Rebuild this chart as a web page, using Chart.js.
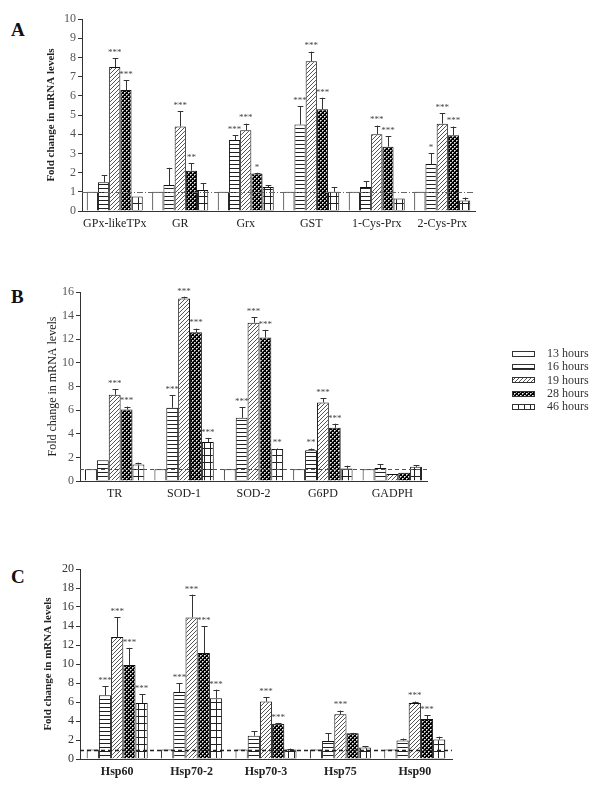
<!DOCTYPE html>
<html>
<head>
<meta charset="utf-8">
<script src="https://cdn.jsdelivr.net/npm/chart.js@4.4.1/dist/chart.umd.min.js"></script>
<style>
  body { margin: 0; background: #fff; width: 600px; height: 790px; position: relative; overflow: hidden; font-family: "Liberation Serif", serif; }
  canvas.panel { position: absolute; left: 0; }
  .letter { position: absolute; left: 11px; font-size: 19px; font-weight: bold; line-height: 1; color: #111; }
  #legend { position: absolute; left: 512px; top: 347px; font-size: 12px; color: #333; }
  #legend div { height: 13.3px; display: flex; align-items: center; }
  #legend canvas { margin-right: 12px; }
</style>
</head>
<body>
<div class="letter" style="top:20px">A</div>
<div class="letter" style="top:287px">B</div>
<div class="letter" style="top:567px">C</div>
<canvas id="chartA" class="panel" width="500" height="240" style="top:0"></canvas>
<canvas id="chartB" class="panel" width="500" height="230" style="top:280px"></canvas>
<canvas id="chartC" class="panel" width="500" height="235" style="top:555px"></canvas>
<div id="legend"></div>
<script>
/* ================= DATA ================= */
const hours = ['13 hours', '16 hours', '19 hours', '28 hours', '46 hours'];

// Panel A - antioxidant enzymes (0-10)
const catsA = ['GPx-likeTPx', 'GR', 'Grx', 'GST', '1-Cys-Prx', '2-Cys-Prx'];
const a13 = [1, 1, 1, 1, 1, 1];
const a16 = [1.5, 1.35, 3.7, 4.5, 1.25, 2.45];
const a19 = [7.5, 4.4, 4.2, 7.8, 4.0, 4.55];
const a28 = [6.3, 2.1, 1.95, 5.3, 3.35, 3.95];
const a46 = [0.75, 1.1, 1.25, 1.0, 0.65, 0.55];
const errA16 = [0.35, 0.9, 0.25, 0.95, 0.3, 0.55];
const errA19 = [0.45, 0.8, 0.35, 0.5, 0.45, 0.55];
const errA28 = [0.5, 0.4, 0.04, 0.6, 0.55, 0.45];
const errA46 = [0, 0.35, 0.1, 0.25, 0, 0.15];
const starsA16 = ['', '', '***', '***', '', '*'];
const starsA19 = ['***', '***', '***', '***', '***', '***'];
const starsA28 = ['***', '**', '*', '***', '***', '***'];

// Panel B (0-16)
const catsB = ['TR', 'SOD-1', 'SOD-2', 'G6PD', 'GADPH'];
const b13 = [1, 1, 1, 1, 1];
const b16 = [1.75, 6.2, 5.35, 2.6, 1.1];
const b19 = [7.3, 15.45, 13.4, 6.65, 0.6];
const b28 = [6.05, 12.6, 12.15, 4.5, 0.7];
const b46 = [1.4, 3.3, 2.7, 1.05, 1.2];
const errB16 = [0, 1.05, 0.9, 0.15, 0.3];
const errB19 = [0.45, 0.15, 0.45, 0.35, 0];
const errB28 = [0.25, 0.3, 0.65, 0.35, 0];
const errB46 = [0.15, 0.35, 0.05, 0.25, 0.15];
const starsB16 = ['', '***', '***', '**', ''];
const starsB19 = ['***', '***', '***', '***', ''];
const starsB28 = ['***', '***', '***', '***', ''];
const starsB46 = ['', '***', '**', '', ''];

// Panel C - heat shock proteins (0-20)
const catsC = ['Hsp60', 'Hsp70-2', 'Hsp70-3', 'Hsp75', 'Hsp90'];
const c13 = [1, 1, 1, 1, 1];
const c16 = [6.7, 7.05, 2.45, 1.9, 1.95];
const c19 = [12.85, 14.9, 6.05, 4.7, 5.9];
const c28 = [9.9, 11.15, 3.7, 2.7, 4.2];
const c46 = [5.9, 6.4, 1.0, 1.2, 2.05];
const errC16 = [0.95, 0.95, 0.45, 0.8, 0.2];
const errC19 = [2.05, 2.4, 0.45, 0.4, 0.15];
const errC28 = [1.8, 2.85, 0.1, 0.05, 0.4];
const errC46 = [0.9, 0.9, 0.1, 0.15, 0.3];
const starsC16 = ['***', '***', '', '', ''];
const starsC19 = ['***', '***', '***', '***', '***'];
const starsC28 = ['***', '***', '***', '', '***'];
const starsC46 = ['***', '***', '', '', ''];

const none = n => new Array(n).fill(0);
const noStars = n => new Array(n).fill('');

/* ================= PATTERNS ================= */
function makeTile(kind) {
    const c = document.createElement('canvas');
    const g = c.getContext('2d');
    if (kind === 'white') {
        c.width = 2; c.height = 2;
        g.fillStyle = '#fff'; g.fillRect(0, 0, 2, 2);
    } else if (kind === 'horiz') {
        c.width = 4; c.height = 4;
        g.fillStyle = '#fff'; g.fillRect(0, 0, 4, 4);
        g.fillStyle = '#222'; g.fillRect(0, 0, 4, 1);
    } else if (kind === 'diag') {
        c.width = 4; c.height = 4;
        g.fillStyle = '#fff'; g.fillRect(0, 0, 4, 4);
        g.fillStyle = '#555';
        for (let i = 0; i < 4; i++) g.fillRect(i, 3 - i, 1, 1);
    } else if (kind === 'dots') {
        c.width = 4; c.height = 4;
        g.fillStyle = '#000'; g.fillRect(0, 0, 4, 4);
        g.fillStyle = '#eee'; g.fillRect(0, 0, 1, 1); g.fillRect(2, 2, 1, 1);
        g.fillStyle = '#999';
        g.fillRect(1, 0, 1, 1); g.fillRect(0, 1, 1, 1);
        g.fillRect(3, 2, 1, 1); g.fillRect(2, 3, 1, 1);
    } else if (kind === 'grid') {
        c.width = 6; c.height = 7;
        g.fillStyle = '#fff'; g.fillRect(0, 0, 6, 7);
        g.fillStyle = '#222'; g.fillRect(0, 0, 6, 1); g.fillRect(0, 0, 1, 7);
    }
    return c;
}
const kinds = ['white', 'horiz', 'diag', 'dots', 'grid'];
const probe = document.createElement('canvas').getContext('2d');
const fills = kinds.map(k => probe.createPattern(makeTile(k), 'repeat'));

/* ================= PLUGINS ================= */
const refLine = {
    id: 'refLine',
    afterDatasetsDraw(chart, args, opts) {
        const { ctx, chartArea, scales: { y } } = chart;
        const py = Math.round(y.getPixelForValue(1)) + 0.5;
        ctx.save();
        ctx.strokeStyle = opts.color;
        ctx.lineWidth = opts.width;
        ctx.setLineDash(opts.dash);
        ctx.beginPath();
        ctx.moveTo(chartArea.left, py);
        ctx.lineTo(chartArea.right, py);
        ctx.stroke();
        ctx.restore();
    }
};

const errorBars = {
    id: 'errorBars',
    afterDatasetsDraw(chart) {
        const { ctx, scales: { y } } = chart;
        ctx.save();
        ctx.font = '9px "Liberation Serif", serif';
        ctx.fillStyle = '#444';
        ctx.textAlign = 'center';
        ctx.textBaseline = 'bottom';
        chart.data.datasets.forEach((ds, i) => {
            chart.getDatasetMeta(i).data.forEach((bar, j) => {
                const e = ds.errors[j];
                const yTop = y.getPixelForValue(ds.data[j] + e);
                const x = Math.round(bar.x) + 0.5;
                if (e > 0) {
                    ctx.strokeStyle = '#333';
                    ctx.lineWidth = 1;
                    ctx.beginPath();
                    ctx.moveTo(x, bar.y);
                    ctx.lineTo(x, yTop);
                    ctx.moveTo(x - bar.width / 4, Math.round(yTop) + 0.5);
                    ctx.lineTo(x + bar.width / 4, Math.round(yTop) + 0.5);
                    ctx.stroke();
                }
                if (ds.stars[j]) ctx.fillText(ds.stars[j], bar.x, yTop - 1);
            });
        });
        ctx.restore();
    }
};

/* ================= CHART BUILDER ================= */
function buildChart(id, cats, series, errs, stars, cfg) {
    return new Chart(document.getElementById(id), {
        type: 'bar',
        data: {
            labels: cats,
            datasets: series.map((d, i) => ({
                label: hours[i],
                data: d,
                errors: errs[i],
                stars: stars[i],
                backgroundColor: fills[i],
                borderColor: '#111',
                borderWidth: 1,
                barPercentage: 1,
                categoryPercentage: cfg.catPct
            }))
        },
        options: {
            responsive: false,
            animation: false,
            layout: { padding: cfg.padding },
            plugins: {
                legend: { display: false },
                tooltip: { enabled: false },
                refLine: cfg.refLine
            },
            scales: {
                x: {
                    grid: { display: false, drawTicks: false },
                    border: { color: '#333' },
                    ticks: { font: cfg.xFont, color: '#222', padding: 6, maxRotation: 0, autoSkip: false },
                    afterFit: s => { s.height = 24; }
                },
                y: {
                    min: 0,
                    max: cfg.max,
                    ticks: { stepSize: cfg.step, font: { family: 'Liberation Serif', size: 12 }, color: cfg.tickColor, padding: 2 },
                    grid: { drawOnChartArea: false, tickLength: 4, color: '#333' },
                    border: { color: '#333' },
                    title: {
                        display: true,
                        text: 'Fold change in mRNA levels',
                        font: cfg.titleFont,
                        color: '#222',
                        padding: { top: cfg.titlePad, bottom: 0 }
                    },
                    afterFit: s => { s.width = cfg.yWidth; }
                }
            }
        },
        plugins: [refLine, errorBars]
    });
}

buildChart('chartA', catsA,
    [a13, a16, a19, a28, a46],
    [none(6), errA16, errA19, errA28, errA46],
    [noStars(6), starsA16, starsA19, starsA28, noStars(6)],
    {
        catPct: 0.855, max: 10, step: 1, yWidth: 82, titlePad: 45,
        padding: { left: 0, top: 19, right: 25, bottom: 5 },
        xFont: { family: 'Liberation Serif', size: 12 },
        titleFont: { family: 'Liberation Serif', size: 11, weight: 'bold' },
        tickColor: '#555',
        refLine: { color: '#666', width: 1, dash: [6, 2, 1, 2] }
    });

buildChart('chartB', catsB,
    [b13, b16, b19, b28, b46],
    [none(5), errB16, errB19, errB28, errB46],
    [noStars(5), starsB16, starsB19, starsB28, starsB46],
    {
        catPct: 0.855, max: 16, step: 2, yWidth: 80, titlePad: 46,
        padding: { left: 0, top: 12, right: 73, bottom: 5 },
        xFont: { family: 'Liberation Serif', size: 12 },
        titleFont: { family: 'Liberation Serif', size: 12 },
        tickColor: '#555',
        refLine: { color: '#555', width: 1, dash: [4, 3] }
    });

buildChart('chartC', catsC,
    [c13, c16, c19, c28, c46],
    [none(5), errC16, errC19, errC28, errC46],
    [noStars(5), starsC16, starsC19, starsC28, starsC46],
    {
        catPct: 0.82, max: 20, step: 2, yWidth: 80, titlePad: 42,
        padding: { left: 0, top: 14, right: 48, bottom: 7 },
        xFont: { family: 'Liberation Serif', size: 12, weight: 'bold' },
        titleFont: { family: 'Liberation Serif', size: 11, weight: 'bold' },
        tickColor: '#333',
        refLine: { color: '#222', width: 1.3, dash: [4, 3] }
    });

/* ================= LEGEND ================= */
const legend = document.getElementById('legend');
hours.forEach((h, i) => {
    const row = document.createElement('div');
    const sw = document.createElement('canvas');
    sw.width = 23; sw.height = 6;
    const g = sw.getContext('2d');
    g.fillStyle = g.createPattern(makeTile(kinds[i]), 'repeat');
    g.fillRect(0, 0, 23, 6);
    g.strokeStyle = '#333';
    g.strokeRect(0.5, 0.5, 22, 5);
    row.appendChild(sw);
    row.appendChild(document.createTextNode(h));
    legend.appendChild(row);
});
</script>
</body>
</html>
